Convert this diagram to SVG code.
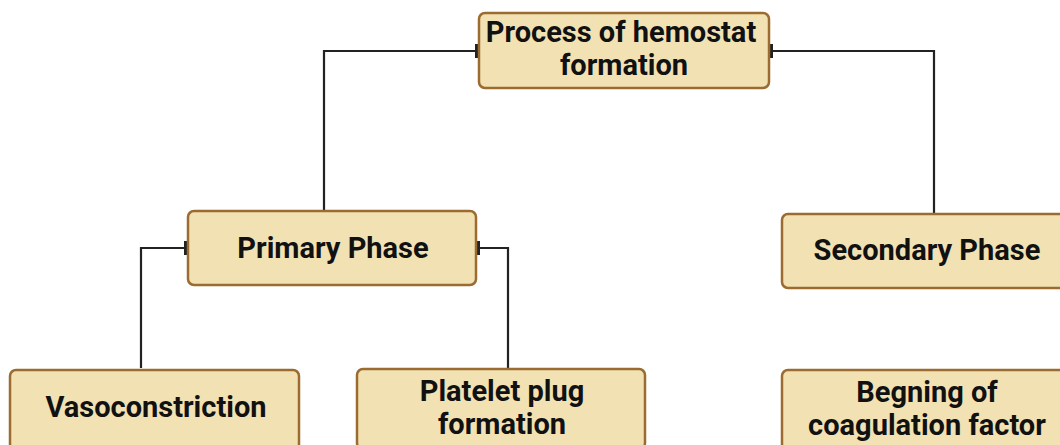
<svg xmlns="http://www.w3.org/2000/svg" width="1060" height="445" viewBox="0 0 1060 445">
<style>
.box{fill:#f1e1b3;stroke:#9b6b30;stroke-width:2.5}
.t{font-family:Roboto,"Liberation Sans",sans-serif;font-weight:bold;font-size:29px;fill:#111;text-anchor:middle}
.c{fill:none;stroke:#222;stroke-width:2.2}
.tick{fill:#222}
</style>
<rect width="1060" height="445" fill="#fff"/>
<g id="connectors">
<path class="c" d="M479 51 H324 V211"/>
<path class="c" d="M769 51 H934 V214"/>
<path class="c" d="M188 248 H141 V368"/>
<path class="c" d="M476 248 H508 V368"/>
<rect class="tick" x="475" y="44" width="4" height="14"/>
<rect class="tick" x="769" y="44" width="4" height="14"/>
<rect class="tick" x="184" y="241" width="4" height="14"/>
<rect class="tick" x="476" y="241" width="4" height="14"/>
</g>
<g id="n-top">
<rect class="box" x="479" y="13" width="290" height="75" rx="6"/>
<text class="t" x="621" y="42">Process of hemostat</text>
<text class="t" x="624" y="75">formation</text>
</g>
<g id="n-primary">
<rect class="box" x="188" y="211" width="288" height="74" rx="6"/>
<text class="t" x="333" y="258">Primary Phase</text>
</g>
<g id="n-secondary">
<rect class="box" x="782" y="214" width="290" height="74" rx="6"/>
<text class="t" x="927" y="260">Secondary Phase</text>
</g>
<g id="n-vaso">
<rect class="box" x="10" y="370" width="289" height="80" rx="6"/>
<text class="t" x="156" y="417">Vasoconstriction</text>
</g>
<g id="n-platelet">
<rect class="box" x="357" y="369" width="288" height="80" rx="6"/>
<text class="t" x="502" y="401">Platelet plug</text>
<text class="t" x="502" y="434">formation</text>
</g>
<g id="n-begning">
<rect class="box" x="782" y="370" width="290" height="80" rx="6"/>
<text class="t" x="927" y="402">Begning of</text>
<text class="t" x="927" y="435">coagulation factor</text>
</g>
</svg>
